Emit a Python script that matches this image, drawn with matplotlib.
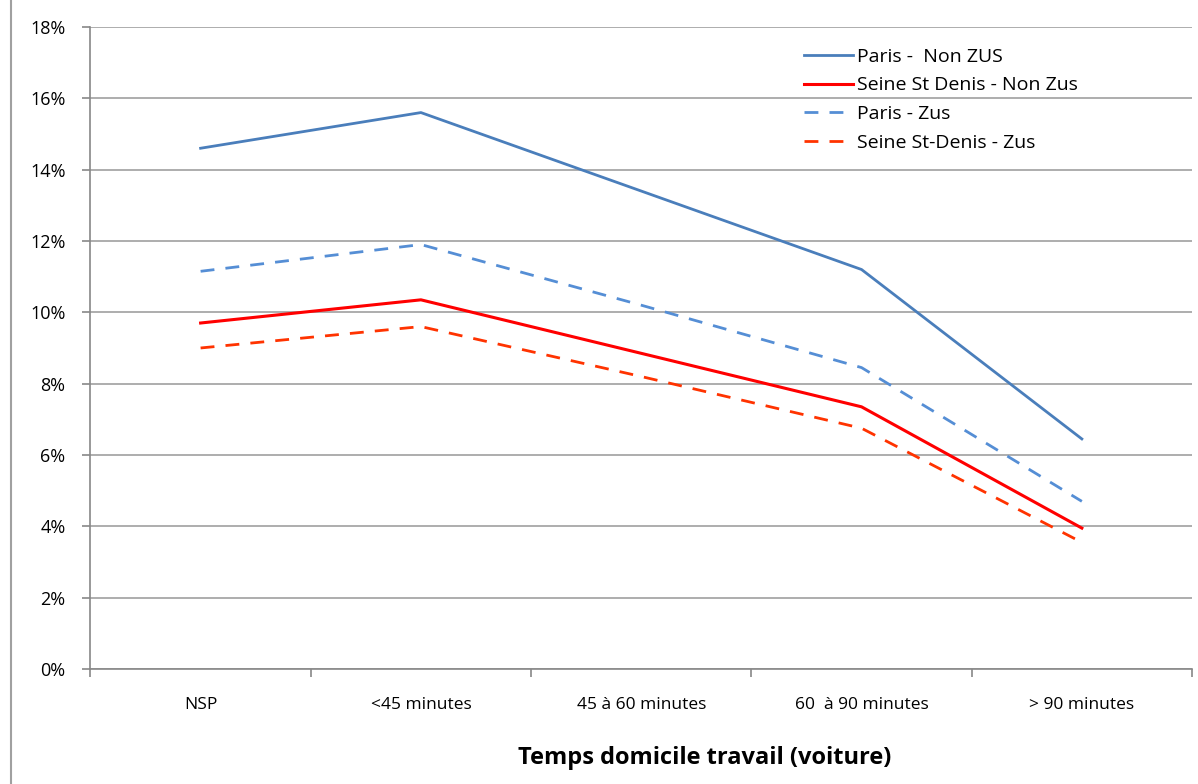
import matplotlib
matplotlib.use("Agg")
import matplotlib.pyplot as plt
from matplotlib.ticker import FuncFormatter, FixedLocator
from matplotlib.lines import Line2D

# Data (percent)
categories = ["NSP", "<45 minutes", "45 à 60 minutes", "60  à 90 minutes", "> 90 minutes"]
paris_non_zus = [14.6, 15.6, 13.4, 11.2, 6.45]
ssd_non_zus = [9.7, 10.35, 8.85, 7.35, 3.95]
paris_zus = [11.15, 11.9, 10.2, 8.45, 4.7]
ssd_zus = [9.0, 9.6, 8.2, 6.75, 3.55]

plt.rcParams["font.family"] = ["Open Sans", "DejaVu Sans"]

fig = plt.figure(figsize=(11.98, 7.84), dpi=100)
ax = fig.add_axes([0.0755, 0.1467, 0.9195, 0.8189])

x = list(range(len(categories)))
ax.plot(x, paris_non_zus, "-", color="#4A7EBB", linewidth=2, label="Paris -  Non ZUS")
ax.plot(x, ssd_non_zus, "-", color="#FF0000", linewidth=2.2, label="Seine St Denis - Non Zus")
ax.plot(x, paris_zus, "--", color="#558ED5", linewidth=2, dashes=(5, 4), label="Paris - Zus")
ax.plot(x, ssd_zus, "--", color="#FF3300", linewidth=2, dashes=(5, 4), label="Seine St-Denis - Zus")

ax.set_xlim(-0.5, len(categories) - 0.5)
ax.set_ylim(0, 18)
ax.set_yticks(range(0, 19, 2))
ax.yaxis.set_major_formatter(FuncFormatter(lambda v, p: f"{v:.0f}%"))
ax.yaxis.grid(True, color="#A0A0A0", linewidth=1.2)
ax.set_axisbelow(True)

# category labels centred, ticks on boundaries
ax.set_xticks(x)
ax.set_xticklabels(categories, fontsize=12.5)
ax.tick_params(axis="x", length=0, pad=20)
ax.xaxis.set_minor_locator(FixedLocator([i - 0.5 for i in range(len(categories) + 1)]))
ax.tick_params(axis="x", which="minor", length=6, width=1.2, color="#888888", direction="out")
ax.tick_params(axis="y", length=6, width=1.2, color="#888888", labelsize=13, pad=12)

for s in ["top", "right"]:
    ax.spines[s].set_visible(False)
for s in ["left", "bottom"]:
    ax.spines[s].set_color("#888888")
    ax.spines[s].set_linewidth(1.2)

ax.set_xlabel("Temps domicile travail (voiture)", fontsize=17, fontweight="bold")
ax.xaxis.set_label_coords(0.558, -0.12)

ax.legend(loc="upper left", bbox_to_anchor=(0.632, 0.995), frameon=False, fontsize=14,
          handlelength=2.5, handletextpad=0.2, labelspacing=0.55)

# outer chart border
fig.add_artist(Line2D([0.009, 0.009], [0, 1], color="#A0A0A0", linewidth=1.5))

fig.savefig("out.png", dpi=100)
